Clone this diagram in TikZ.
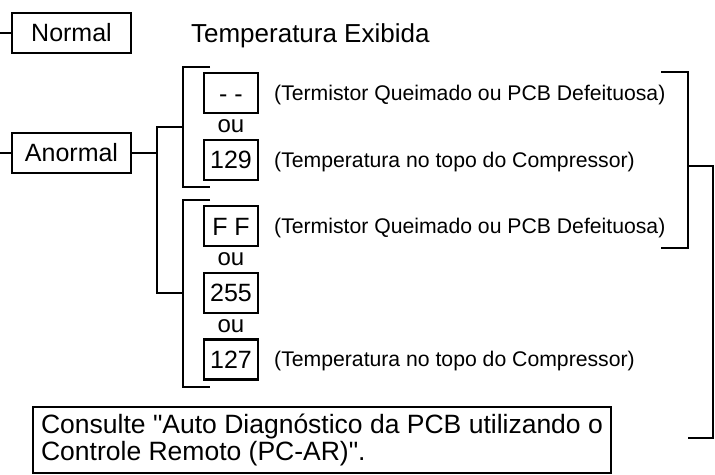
\documentclass[tikz,border=0pt]{standalone}
\usepackage{fontspec}
\setmainfont{Liberation Sans}
\usetikzlibrary{positioning}

\begin{document}
\begin{tikzpicture}[x=1pt,y=-1pt,node distance=33.3pt,line width=2.2pt]
  \tikzstyle{statebox}=[draw=black,rectangle,inner sep=0pt,minimum width=119pt,minimum height=40pt,font=\fontsize{25}{30}\selectfont]
  \tikzstyle{dispbox}=[draw=black,rectangle,inner sep=0pt,minimum width=54pt,minimum height=40pt,text height=18pt,text depth=0pt,font=\fontsize{25}{30}\selectfont]
  \tikzstyle{orlabel}=[inner sep=0pt,font=\fontsize{24}{28}\selectfont]
  \tikzstyle{desc}=[inner sep=0pt,font=\fontsize{21.2}{25}\selectfont]

  \useasboundingbox (0,0) rectangle (715,474);

  % modes
  \node[statebox] (normal) at (71.5,33) {Normal};
  \node[statebox, below of=normal, node distance=120pt] (anormal) {Anormal};
  \node[anchor=base west, inner sep=0pt, font=\fontsize{26}{30}\selectfont] (titulo) at (190,42) {Temperatura Exibida};

  % displayed values
  \node[dispbox] (dash) at (231,93) {- -};
  \node[orlabel, below of=dash] (ou1) {ou};
  \node[dispbox, below of=ou1] (n129) {129};
  \node[dispbox, below of=n129, node distance=66.6pt] (nFF) {F F};
  \node[orlabel, below of=nFF] (ou2) {ou};
  \node[dispbox, below of=ou2] (n255) {255};
  \node[orlabel, below of=n255] (ou3) {ou};
  \node[dispbox, below of=ou3] (n127) {127};

  \node[desc, right=14pt of dash, yshift=-2pt] (d1) {(Termistor Queimado ou PCB Defeituosa)};
  \node[desc, right=14pt of n129, yshift=-2pt] (d2) {(Temperatura no topo do Compressor)};
  \node[desc, right=14pt of nFF, yshift=-2pt] (d3) {(Termistor Queimado ou PCB Defeituosa)};
  \node[desc, right=14pt of n127, yshift=-2pt] (d4) {(Temperatura no topo do Compressor)};

  \node[draw=black, rectangle, inner sep=0pt, minimum width=578pt, minimum height=66pt, align=left, font=\fontsize{26.5}{27.5}\selectfont] (consulte) at (322,440) {Consulte \textquotedbl Auto Diagnóstico da PCB utilizando o\\Controle Remoto (PC-AR)\textquotedbl.};

  % bracket points
  \coordinate (normalin) at (0,33);
  \coordinate (anormalin) at (0,153);
  \coordinate (split) at (157,153);
  \coordinate (b1mid) at (183,127);
  \coordinate (b2mid) at (183,293);
  \coordinate (b1top) at (210,67);
  \coordinate (b1bot) at (210,187);
  \coordinate (b2top) at (210,200);
  \coordinate (b2bot) at (210,387);
  \coordinate (r1top) at (661,72);
  \coordinate (r1bot) at (661,248);
  \coordinate (rmid) at (688,166);
  \coordinate (rend) at (688,438);

  % edges
  \draw (normalin) -- (normal.west);
  \draw (anormalin) -- (anormal.west);
  \draw (anormal.east) -- (split);
  \draw (b1mid) -| (split) |- (b2mid);
  \draw (b1top) -- ++(-27,0) |- (b1bot);
  \draw (b2top) -- ++(-27,0) |- (b2bot);
  \draw (r1top) -- ++(27,0) |- (r1bot);
  \draw (rmid) -- ++(25,0) |- (rend);

\end{tikzpicture}
\end{document}
